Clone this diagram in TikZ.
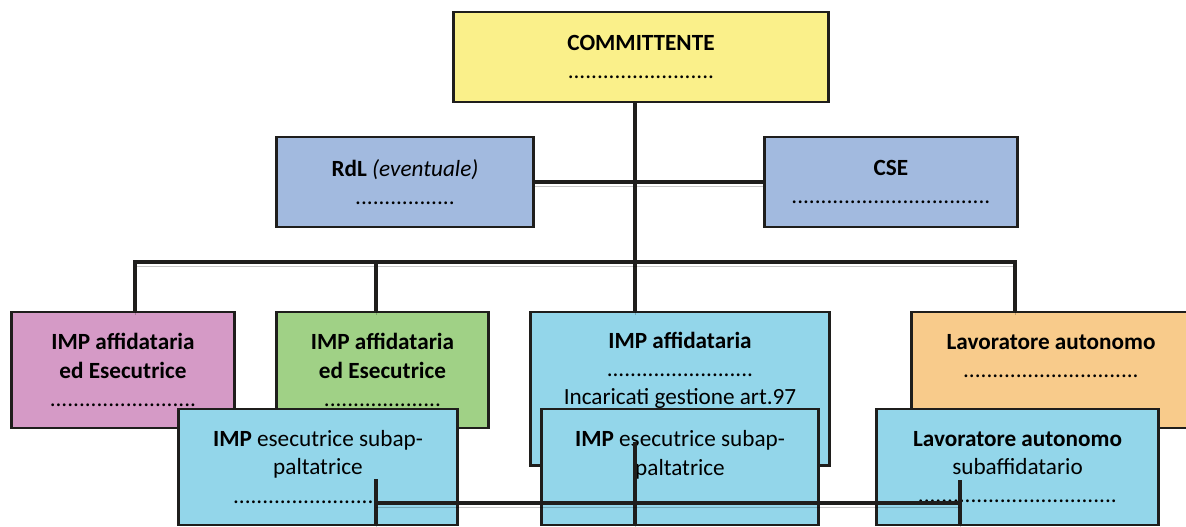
\documentclass[tikz,border=0pt]{standalone}
\usepackage{fontspec}
\setmainfont{Carlito}
\usepackage{xcolor}
\definecolor{ocYel}{HTML}{FAF08A}
\definecolor{ocSteel}{HTML}{A2BADF}
\definecolor{ocPink}{HTML}{D59AC6}
\definecolor{ocGreen}{HTML}{A0D186}
\definecolor{ocSky}{HTML}{93D6EA}
\definecolor{ocPeach}{HTML}{F8CB8B}
\definecolor{ocLine}{HTML}{1F1E1C}

\begin{document}
\begin{tikzpicture}[x=0.025cm, y=-0.025cm,
  box/.style={draw=ocLine, line width=2.1pt, align=center, inner sep=0pt, font=\fontsize{16.5}{20}\selectfont},
  wire/.style={draw=ocLine, line width=3.5pt, preaction={draw=black, draw opacity=0.22, transform canvas={yshift=-0.11cm}}}]

  \useasboundingbox (0,0) rectangle (1186,527);

  % Committente and its two staff boxes
  \node[box, fill=ocYel, minimum width=9.35cm, minimum height=2.25cm] (comm) at (641,57) {\textbf{COMMITTENTE}\\ .........................};
  \node[box, fill=ocSteel, minimum width=6.4cm, minimum height=2.25cm] (rdl) at (405,182) {\textbf{RdL} \textit{(eventuale)}\\ .................};
  \node[box, fill=ocSteel, minimum width=6.3cm, minimum height=2.25cm] (cse) at (891,182) {\textbf{CSE}\\ ..................................};

  % Companies on the first level
  \node[box, fill=ocPink, minimum width=5.55cm, minimum height=2.9cm] (pink) at (123,370) {\textbf{IMP affidataria}\\ \textbf{ed Esecutrice}\\ .........................};
  \node[box, fill=ocGreen, minimum width=5.275cm, minimum height=2.9cm] (green) at (382.5,370) {\textbf{IMP affidataria}\\ \textbf{ed Esecutrice}\\ ....................};
  \node[box, fill=ocSky, minimum width=7.45cm, minimum height=3.825cm] (aff) at (680,388.5) {\textbf{IMP affidataria}\\ .........................\\ Incaricati gestione art.97\\[9pt] \mbox{}};
  \node[box, fill=ocPeach, minimum width=6.95cm, minimum height=2.9cm] (auto) at (1051,370) {\textbf{Lavoratore autonomo}\\ ..............................\\ \mbox{}};

  % Connectors of the upper part
  \coordinate (tr) at (635,262);
  \coordinate (bl) at (135,262);
  \coordinate (bg) at (376,262);
  \coordinate (br) at (1015,262);
  \draw[wire] (rdl.east) -- (cse.west);
  \draw[wire] (comm.south -| tr) -- (aff.north -| tr);
  \draw[wire] (pink.north -| bl) |- (br) -- (auto.north -| br);
  \draw[wire] (bg) -- (green.north -| bg);

  % Subcontractors
  \node[box, fill=ocSky, minimum width=6.95cm, minimum height=2.9cm] (subA) at (318,467) {\textbf{IMP} esecutrice subap-\\ paltatrice\\ ........................\phantom{.....}};
  \node[box, fill=ocSky, minimum width=6.9cm, minimum height=2.9cm] (subB) at (680,467) {\textbf{IMP} esecutrice subap-\\ paltatrice\\ \mbox{}};
  \node[box, fill=ocSky, minimum width=7.025cm, minimum height=2.9cm] (subC) at (1017.5,467) {\textbf{Lavoratore autonomo}\\ subaffidatario\\ ..................................};

  % Connectors of the lower part
  \coordinate (ja) at (376,479);
  \coordinate (jb) at (635,442);
  \coordinate (jc) at (960,480);
  \coordinate (ha) at (376,503);
  \coordinate (hc) at (960,503);
  \draw[wire] (ja) -- (ja |- subA.south);
  \draw[wire] (jb) -- (jb |- subB.south);
  \draw[wire] (jc) -- (jc |- subC.south);
  \draw[wire] (ha) -- (hc);

\end{tikzpicture}
\end{document}
